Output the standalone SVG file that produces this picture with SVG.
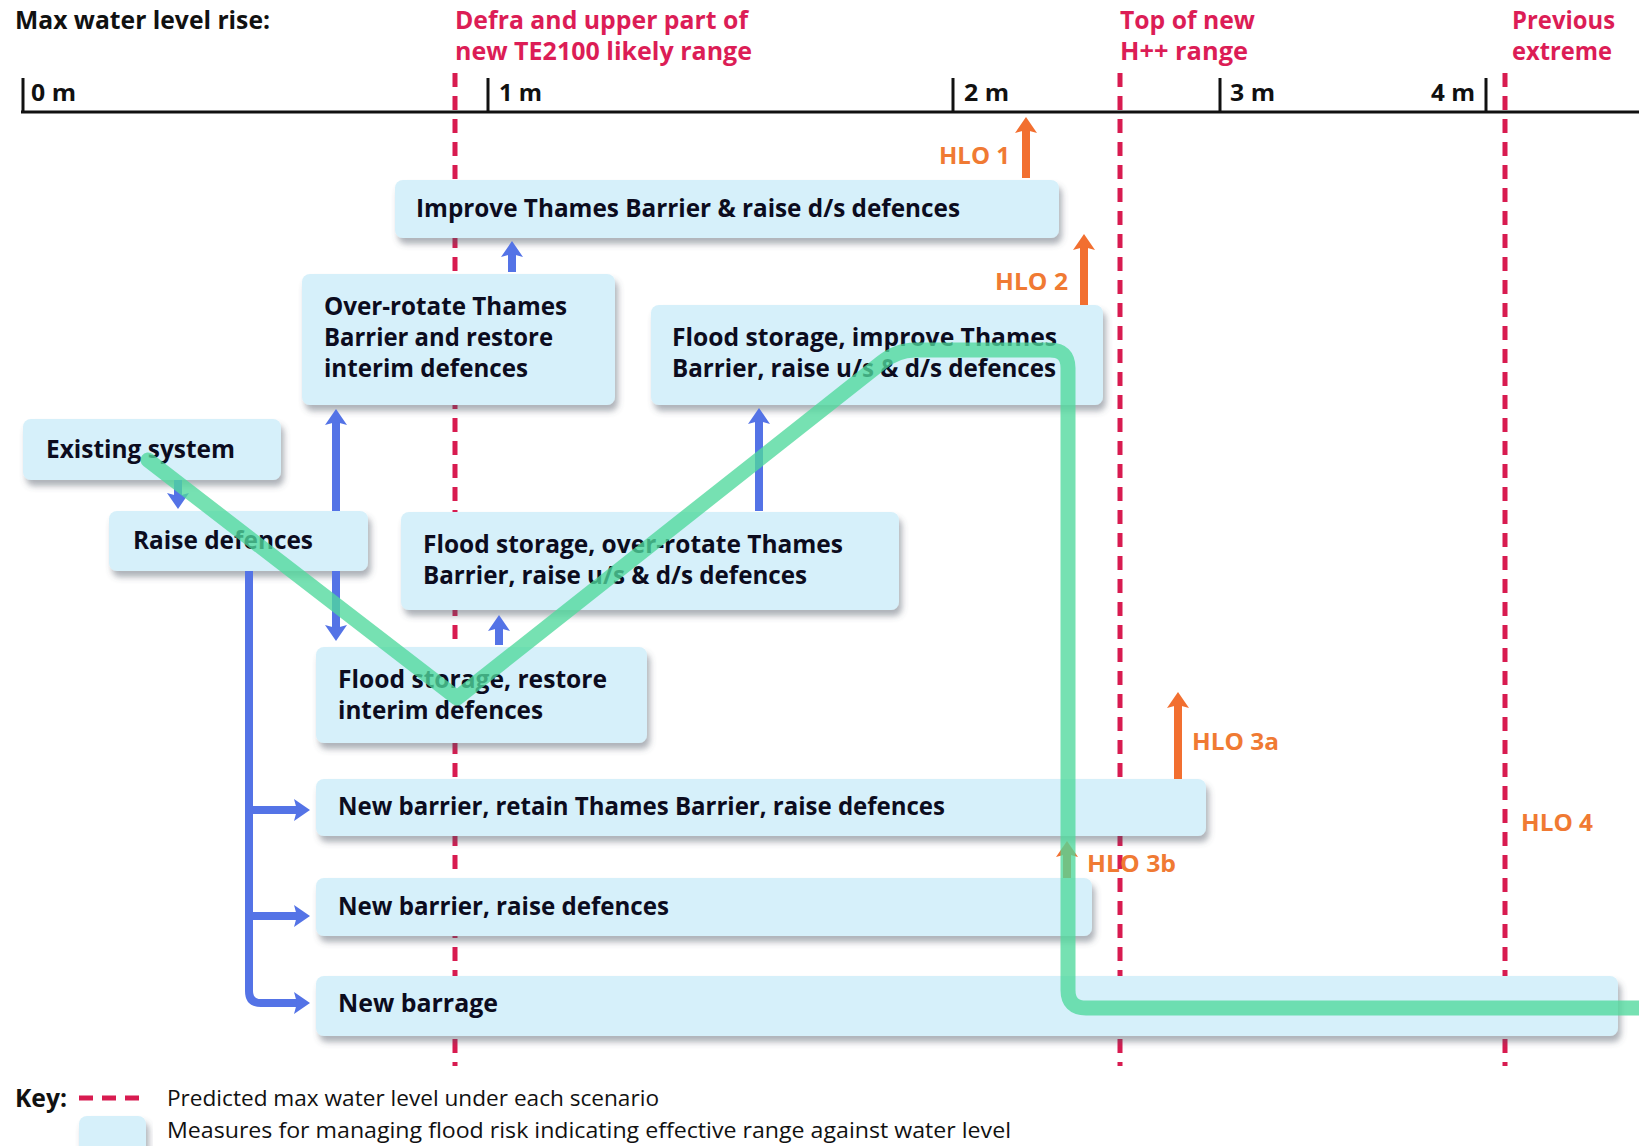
<svg xmlns="http://www.w3.org/2000/svg" width="1639" height="1146" viewBox="0 0 1639 1146">
  <style>
    text { font-family: "Open Sans", "Liberation Sans", Arial, sans-serif; font-weight: bold; }
    .hdr { font-size: 25px; fill: #111; }
    .red { font-size: 25px; fill: #dc1d56; }
    .ax { font-size: 23px; fill: #111; }
    .hlo { font-size: 24px; fill: #f07a33; }
    .lbl { font-size: 25px; fill: #0c0c1e; }
    .key { font-size: 21px; font-weight: normal; fill: #111; }
    .box { fill: #d6f0fa; filter: url(#shadow); }
    .lvl { stroke: #d81b50; stroke-width: 5; stroke-dasharray: 14 9; fill: none; }
    .blue { stroke: #5473e6; stroke-width: 8; fill: none; marker-end: url(#headBlue); }
    .orange { stroke: #f26f30; stroke-width: 8; fill: none; marker-end: url(#headOrange); }
    .route { stroke: #4fd99c; stroke-width: 15; fill: none; opacity: 0.78; stroke-linejoin: round; stroke-linecap: round; }
  </style>
  <defs>
    <filter id="shadow" x="-5%" y="-20%" width="115%" height="160%">
      <feDropShadow dx="3" dy="6" stdDeviation="3" flood-color="#4a5560" flood-opacity="0.45"/>
    </filter>
    <marker id="headBlue" viewBox="0 0 16 24" refX="3" refY="12" markerWidth="16" markerHeight="24" markerUnits="userSpaceOnUse" orient="auto">
      <path d="M0,1 L16,12 L0,23 L3,12 z" fill="#5473e6"/>
    </marker>
    <marker id="headOrange" viewBox="0 0 16 24" refX="3" refY="12" markerWidth="16" markerHeight="24" markerUnits="userSpaceOnUse" orient="auto">
      <path d="M0,1 L16,12 L0,23 L3,12 z" fill="#f26f30"/>
    </marker>
  </defs>

  <rect width="1639" height="1146" fill="#ffffff"/>

  <!-- scale header -->
  <g id="header">
    <text class="hdr" x="15" y="29" textLength="255" lengthAdjust="spacingAndGlyphs">Max water level rise:</text>
    <text class="red" x="455" y="29" textLength="293" lengthAdjust="spacingAndGlyphs">Defra and upper part of</text>
    <text class="red" x="455" y="60" textLength="297" lengthAdjust="spacingAndGlyphs">new TE2100 likely range</text>
    <text class="red" x="1120" y="29" textLength="135" lengthAdjust="spacingAndGlyphs">Top of new</text>
    <text class="red" x="1120" y="60" textLength="128" lengthAdjust="spacingAndGlyphs">H++ range</text>
    <text class="red" x="1512" y="29" textLength="103" lengthAdjust="spacingAndGlyphs">Previous</text>
    <text class="red" x="1512" y="60" textLength="100" lengthAdjust="spacingAndGlyphs">extreme</text>
  </g>

  <!-- water level axis -->
  <g id="axis" stroke="#111" stroke-width="3" fill="none">
    <line x1="21" y1="112" x2="1639" y2="112"/>
    <line x1="23" y1="78" x2="23" y2="112"/>
    <line x1="488" y1="78" x2="488" y2="112"/>
    <line x1="953" y1="78" x2="953" y2="112"/>
    <line x1="1220" y1="78" x2="1220" y2="112"/>
    <line x1="1486" y1="78" x2="1486" y2="112"/>
  </g>
  <g id="axis-labels">
    <text class="ax" x="31" y="101" textLength="45" lengthAdjust="spacingAndGlyphs">0 m</text>
    <text class="ax" x="499" y="101" textLength="43" lengthAdjust="spacingAndGlyphs">1 m</text>
    <text class="ax" x="964" y="101" textLength="45" lengthAdjust="spacingAndGlyphs">2 m</text>
    <text class="ax" x="1230" y="101" textLength="45" lengthAdjust="spacingAndGlyphs">3 m</text>
    <text class="ax" x="1431" y="101" textLength="44" lengthAdjust="spacingAndGlyphs">4 m</text>
  </g>

  <!-- predicted max water levels -->
  <g id="levels">
    <line class="lvl" x1="455" y1="73" x2="455" y2="1066"/>
    <line class="lvl" x1="1120" y1="73" x2="1120" y2="1066"/>
    <line class="lvl" x1="1505" y1="73" x2="1505" y2="1066"/>
  </g>

  <!-- measures -->
  <g id="improve-barrier">
    <rect class="box" x="395" y="180" width="664" height="58" rx="8"/>
    <text class="lbl" x="416" y="217" textLength="544" lengthAdjust="spacingAndGlyphs">Improve Thames Barrier &amp; raise d/s defences</text>
  </g>
  <g id="over-rotate">
    <rect class="box" x="302" y="274" width="313" height="131" rx="8"/>
    <text class="lbl" x="324" y="315" textLength="243" lengthAdjust="spacingAndGlyphs">Over-rotate Thames</text>
    <text class="lbl" x="324" y="346" textLength="229" lengthAdjust="spacingAndGlyphs">Barrier and restore</text>
    <text class="lbl" x="324" y="377" textLength="204" lengthAdjust="spacingAndGlyphs">interim defences</text>
  </g>
  <g id="storage-improve">
    <rect class="box" x="651" y="305" width="452" height="100" rx="8"/>
    <text class="lbl" x="672" y="346" textLength="385" lengthAdjust="spacingAndGlyphs">Flood storage, improve Thames</text>
    <text class="lbl" x="672" y="377" textLength="384" lengthAdjust="spacingAndGlyphs">Barrier, raise u/s &amp; d/s defences</text>
  </g>
  <g id="existing">
    <rect class="box" x="23" y="419" width="258" height="61" rx="8"/>
    <text class="lbl" x="46" y="458" textLength="189" lengthAdjust="spacingAndGlyphs">Existing system</text>
  </g>
  <g id="raise">
    <rect class="box" x="109" y="511" width="259" height="60" rx="8"/>
    <text class="lbl" x="133" y="549" textLength="180" lengthAdjust="spacingAndGlyphs">Raise defences</text>
  </g>
  <g id="storage-over-rotate">
    <rect class="box" x="401" y="512" width="498" height="98" rx="8"/>
    <text class="lbl" x="423" y="553" textLength="420" lengthAdjust="spacingAndGlyphs">Flood storage, over-rotate Thames</text>
    <text class="lbl" x="423" y="584" textLength="384" lengthAdjust="spacingAndGlyphs">Barrier, raise u/s &amp; d/s defences</text>
  </g>
  <g id="storage-restore">
    <rect class="box" x="316" y="647" width="331" height="96" rx="8"/>
    <text class="lbl" x="338" y="688" textLength="269" lengthAdjust="spacingAndGlyphs">Flood storage, restore</text>
    <text class="lbl" x="338" y="719" textLength="205" lengthAdjust="spacingAndGlyphs">interim defences</text>
  </g>
  <g id="barrier-retain">
    <rect class="box" x="316" y="779" width="890" height="57" rx="8"/>
    <text class="lbl" x="338" y="815" textLength="607" lengthAdjust="spacingAndGlyphs">New barrier, retain Thames Barrier, raise defences</text>
  </g>
  <g id="barrier-raise">
    <rect class="box" x="316" y="878" width="776" height="58" rx="8"/>
    <text class="lbl" x="338" y="915" textLength="331" lengthAdjust="spacingAndGlyphs">New barrier, raise defences</text>
  </g>
  <g id="barrage">
    <rect class="box" x="316" y="976" width="1302" height="60" rx="8"/>
    <text class="lbl" x="338" y="1012" textLength="160" lengthAdjust="spacingAndGlyphs">New barrage</text>
  </g>

  <!-- connectors -->
  <g id="connectors">
    <path class="blue" d="M178,480 V496"/>
    <path class="blue" d="M336,511 V422"/>
    <path class="blue" d="M336,571 V628"/>
    <path class="blue" d="M512,272 V254"/>
    <path class="blue" d="M759,511 V421"/>
    <path class="blue" d="M499,645 V628"/>
    <path class="blue" d="M249,571 V991 Q249,1003 261,1003 H297"/>
    <path class="blue" d="M249,810 H297"/>
    <path class="blue" d="M249,916 H297"/>

    <path class="orange" d="M1026,178 V130"/>
    <path class="orange" d="M1084,305 V247"/>
    <path class="orange" d="M1178,779 V705"/>
    <path class="orange" d="M1067,878 V854"/>

    <path class="route" d="M148,460 L457,698 L881,363 Q897,350 915,350 H1050 Q1068,350 1068,368 V990 Q1068,1008 1086,1008 H1645"/>
  </g>

  <!-- high level options -->
  <g id="hlo-labels">
    <text class="hlo" x="939" y="164" textLength="71" lengthAdjust="spacingAndGlyphs">HLO 1</text>
    <text class="hlo" x="995" y="290" textLength="73" lengthAdjust="spacingAndGlyphs">HLO 2</text>
    <text class="hlo" x="1192" y="750" textLength="87" lengthAdjust="spacingAndGlyphs">HLO 3a</text>
    <text class="hlo" x="1087" y="872" textLength="89" lengthAdjust="spacingAndGlyphs">HLO 3b</text>
    <text class="hlo" x="1521" y="831" textLength="72" lengthAdjust="spacingAndGlyphs">HLO 4</text>
  </g>

  <!-- key -->
  <g id="key">
    <text class="hdr" x="15" y="1107" textLength="52" lengthAdjust="spacingAndGlyphs">Key:</text>
    <line class="lvl" x1="79" y1="1098" x2="146" y2="1098" stroke-dasharray="16 8"/>
    <text class="key" x="167" y="1106" textLength="492" lengthAdjust="spacingAndGlyphs">Predicted max water level under each scenario</text>
    <rect class="box" x="79" y="1116" width="67" height="40" rx="8"/>
    <text class="key" x="167" y="1138" textLength="844" lengthAdjust="spacingAndGlyphs">Measures for managing flood risk indicating effective range against water level</text>
  </g>
</svg>
